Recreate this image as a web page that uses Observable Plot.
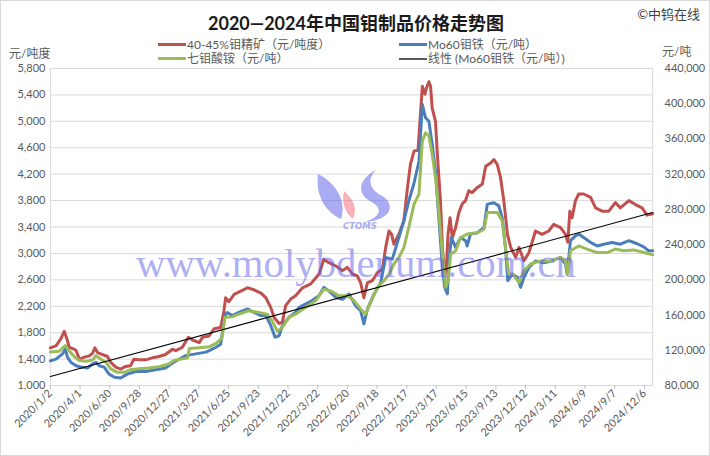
<!DOCTYPE html>
<html>
<head>
<meta charset="utf-8">
<script src="https://cdn.jsdelivr.net/npm/d3@7"></script>
<script src="https://cdn.jsdelivr.net/npm/@observablehq/plot@0.6"></script>
<style>
  html, body { margin: 0; padding: 0; background: #fff; }
  #chart { position: relative; width: 710px; height: 456px; box-sizing: border-box; border: 1px solid #d9d9d9; overflow: hidden;
    font-family: Lato, "Noto Sans CJK SC", sans-serif; color: #595959; }
  .abs { position: absolute; white-space: nowrap; }
  #title { left: 0; width: 710px; top: 9px; text-align: center; font-size: 18px; font-weight: bold; color: #1a1a1a; line-height: 26px; }
  #copy { right: 9px; top: 3px; font-size: 13px; color: #404040; line-height: 20px; }
  .leg { font-size: 12px; line-height: 16px; color: #595959; }
  .sw { display: inline-block; width: 28px; height: 3px; vertical-align: middle; margin-right: 1px; position: relative; top: -1px; }
  .unit { font-size: 12px; line-height: 16px; color: #595959; }
  #plot { position: absolute; left: 0; top: 57px; }
  #wm { position: absolute; left: 0; top: 0; pointer-events: none; }
</style>
</head>
<body>
<div id="chart">
  <div id="title" class="abs">2020—2024年中国钼制品价格走势图</div>
  <div id="copy" class="abs">©中钨在线</div>
  <div class="abs leg" style="left:157px;top:36px"><span class="sw" style="background:#c0504d"></span>40-45%钼精矿（元/吨度）</div>
  <div class="abs leg" style="left:398px;top:36px"><span class="sw" style="background:#4a7ebb"></span>Mo60钼铁（元/吨）</div>
  <div class="abs leg" style="left:157px;top:50px"><span class="sw" style="background:#9bbb59"></span>七钼酸铵（元/吨）</div>
  <div class="abs leg" style="left:398px;top:50px"><span class="sw" style="background:#595959;height:2px"></span>线性 (Mo60钼铁（元/吨）)</div>
  <div class="abs unit" style="left:8px;top:45px">元/吨度</div>
  <div class="abs unit" style="left:661px;top:43px">元/吨</div>
  <div id="plot"></div>
  <svg id="wm" width="710" height="456">
    <g opacity="0.5">
      <path d="M317,173 C335,182 346,200 340,218 C326,212 314,196 317,173 Z" fill="rgb(90,90,235)"/>
      <path d="M343,190 C352,198 357,207 352,218 C345,213 340,202 343,190 Z" fill="rgb(245,100,120)"/>
      <path d="M375,169 C358,178 355,192 369,200 C382,207 381,215 364,221 C391,219 395,203 381,195 C368,188 366,178 375,169 Z" fill="rgb(90,90,235)"/>
      <text x="359" y="228" text-anchor="middle" font-family="'DejaVu Sans', sans-serif" font-size="8.5" font-weight="bold" font-style="italic" fill="rgb(90,90,235)">CTOMS</text>
      <text x="355" y="276" text-anchor="middle" font-family="'Liberation Serif', 'DejaVu Serif', serif" font-size="40" fill="rgb(95,95,235)" textLength="440" lengthAdjust="spacingAndGlyphs">www.molybdenum.com.cn</text>
    </g>
  </svg>
</div>
<script>
// ---- tick labels ----
const xTickLabels = ["2020/1/2","2020/4/1","2020/6/30","2020/9/28","2020/12/27","2021/3/27","2021/6/25","2021/9/23","2021/12/22","2022/3/22","2022/6/20","2022/9/18","2022/12/17","2023/3/17","2023/6/15","2023/9/13","2023/12/12","2024/3/11","2024/6/9","2024/9/7","2024/12/6"];
const leftTicks = [1000,1400,1800,2200,2600,3000,3400,3800,4200,4600,5000,5400,5800];
const rightTicks = [80000,120000,160000,200000,240000,280000,320000,360000,400000,440000];
const xDomain = ["2020-01-02","2024-12-31"];

// ---- 40-45% molybdenum concentrate (元/吨度), left axis ----
const concDates = ["2020-01-02","2020-01-19","2020-02-03","2020-02-13","2020-02-21","2020-02-28","2020-03-10","2020-03-20","2020-03-30","2020-04-14","2020-04-29","2020-05-09","2020-05-16","2020-05-24","2020-06-08","2020-06-23","2020-07-03","2020-07-18","2020-08-02","2020-08-17","2020-09-01","2020-09-11","2020-09-26","2020-10-17","2020-11-06","2020-11-26","2020-12-16","2021-01-06","2021-01-16","2021-02-05","2021-02-23","2021-03-08","2021-03-28","2021-04-07","2021-04-27","2021-05-12","2021-06-01","2021-06-11","2021-06-16","2021-06-26","2021-07-12","2021-08-01","2021-08-21","2021-09-10","2021-10-01","2021-10-16","2021-10-31","2021-11-10","2021-11-25","2021-12-05","2021-12-15","2021-12-30","2022-01-14","2022-02-04","2022-03-01","2022-03-26","2022-04-10","2022-04-25","2022-05-16","2022-06-05","2022-06-20","2022-07-05","2022-07-20","2022-07-30","2022-08-09","2022-08-20","2022-09-04","2022-09-19","2022-10-04","2022-10-14","2022-10-24","2022-11-01","2022-11-08","2022-11-23","2022-12-08","2022-12-18","2022-12-28","2023-01-08","2023-01-20","2023-01-28","2023-02-02","2023-02-10","2023-02-15","2023-02-22","2023-02-27","2023-03-04","2023-03-14","2023-03-19","2023-03-29","2023-04-04","2023-04-11","2023-04-17","2023-04-21","2023-04-27","2023-05-04","2023-05-14","2023-05-24","2023-06-03","2023-06-13","2023-06-23","2023-07-03","2023-07-19","2023-08-03","2023-08-13","2023-08-28","2023-09-07","2023-09-17","2023-09-27","2023-10-07","2023-10-18","2023-10-28","2023-11-12","2023-11-22","2023-12-07","2023-12-22","2024-01-11","2024-01-31","2024-02-20","2024-03-06","2024-03-27","2024-04-11","2024-04-18","2024-04-24","2024-05-01","2024-05-11","2024-05-21","2024-06-05","2024-06-26","2024-07-11","2024-07-31","2024-08-20","2024-09-09","2024-09-24","2024-10-20","2024-11-09","2024-11-29","2024-12-14","2024-12-31"];
const concPrices = [1570,1600,1710,1820,1710,1580,1560,1530,1400,1430,1450,1490,1570,1500,1470,1440,1350,1280,1250,1290,1300,1400,1390,1390,1420,1440,1470,1550,1530,1580,1730,1690,1650,1730,1750,1860,1880,2130,2330,2270,2380,2430,2480,2450,2400,2330,2180,2030,1940,1960,2210,2310,2360,2480,2540,2690,2910,2860,2810,2740,2790,2690,2660,2560,2330,2560,2590,2710,2760,3090,3340,3290,3140,3290,3490,3950,4350,4550,4560,5150,5530,5410,5510,5600,5530,5200,5000,4550,3800,3090,2640,2890,3290,3540,3240,3390,3620,3750,3800,3950,3920,4000,4050,4320,4370,4420,4350,4150,3800,3290,3090,2940,3090,2890,3010,3340,3290,3340,3440,3390,3290,3170,3640,3540,3800,3900,3900,3850,3690,3640,3640,3770,3690,3800,3740,3690,3580,3600];

// ---- Mo60 ferromolybdenum (元/吨), right axis ----
const feMoDates = ["2020-01-02","2020-01-19","2020-02-08","2020-02-16","2020-02-23","2020-03-04","2020-03-20","2020-04-04","2020-04-24","2020-05-09","2020-05-19","2020-05-29","2020-06-13","2020-06-28","2020-07-14","2020-08-02","2020-08-22","2020-09-17","2020-10-17","2020-11-16","2020-12-16","2021-01-10","2021-02-15","2021-03-18","2021-04-18","2021-05-18","2021-06-01","2021-06-14","2021-06-21","2021-07-06","2021-07-26","2021-08-21","2021-09-10","2021-10-01","2021-10-16","2021-10-31","2021-11-13","2021-11-25","2021-12-05","2021-12-25","2022-01-14","2022-01-24","2022-03-05","2022-03-26","2022-04-10","2022-04-25","2022-05-16","2022-06-05","2022-06-25","2022-07-15","2022-07-30","2022-08-09","2022-08-20","2022-09-09","2022-09-29","2022-10-14","2022-11-03","2022-11-23","2022-12-08","2022-12-23","2023-01-08","2023-01-23","2023-02-02","2023-02-12","2023-02-22","2023-03-04","2023-03-14","2023-03-24","2023-04-04","2023-04-11","2023-04-19","2023-04-24","2023-05-01","2023-05-14","2023-05-29","2023-06-13","2023-06-18","2023-06-28","2023-07-19","2023-08-08","2023-08-18","2023-09-07","2023-09-22","2023-10-02","2023-10-12","2023-10-19","2023-11-02","2023-11-17","2023-11-27","2023-12-07","2023-12-22","2024-01-11","2024-02-05","2024-03-01","2024-03-27","2024-04-11","2024-04-16","2024-04-26","2024-05-11","2024-05-21","2024-06-05","2024-06-26","2024-07-16","2024-08-05","2024-08-30","2024-09-24","2024-10-20","2024-11-14","2024-12-04","2024-12-19","2024-12-31"];
const feMoPrices = [108000,110000,116000,121500,112000,106500,102500,101000,100000,104500,106500,102500,101000,93000,89500,88500,93000,96000,96000,98000,100000,106500,114000,116000,118000,123500,127000,159500,163000,159500,163000,167000,163000,159500,159500,148000,135000,136500,148000,157500,163000,168500,176500,182000,191500,187500,180000,178000,184000,170500,165000,150000,167000,184000,197000,225500,223500,248000,267000,289500,310000,335000,399000,384000,380000,354000,323500,270500,214000,191500,184000,221500,248000,237000,248000,244500,238500,252000,253500,259500,286000,287500,284000,270500,237000,199000,206500,203000,191500,203000,214000,221500,219500,221500,225500,218000,206500,244500,250000,252000,248000,242500,238500,240500,242500,240500,244500,241000,237500,233000,233000];

// ---- ammonium heptamolybdate (元/吨), right axis ----
const ahmDates = ["2020-01-02","2020-01-29","2020-02-16","2020-02-28","2020-03-14","2020-03-30","2020-04-19","2020-05-09","2020-05-19","2020-06-03","2020-06-18","2020-07-03","2020-07-23","2020-08-12","2020-09-01","2020-09-26","2020-10-26","2020-11-26","2020-12-26","2021-01-10","2021-02-01","2021-02-21","2021-02-26","2021-03-28","2021-04-27","2021-05-18","2021-06-05","2021-06-14","2021-07-06","2021-07-26","2021-08-25","2021-09-25","2021-10-20","2021-11-04","2021-11-20","2021-12-05","2021-12-25","2022-01-14","2022-02-13","2022-03-16","2022-04-10","2022-04-30","2022-05-26","2022-06-20","2022-07-10","2022-07-30","2022-08-14","2022-08-30","2022-09-19","2022-10-09","2022-10-24","2022-11-08","2022-11-23","2022-12-08","2022-12-23","2023-01-08","2023-01-23","2023-02-02","2023-02-12","2023-02-22","2023-03-04","2023-03-14","2023-03-24","2023-04-04","2023-04-14","2023-04-21","2023-04-29","2023-05-14","2023-05-29","2023-06-18","2023-07-19","2023-08-08","2023-08-18","2023-09-17","2023-10-02","2023-10-12","2023-10-22","2023-11-04","2023-11-22","2023-12-07","2023-12-27","2024-01-27","2024-02-26","2024-03-27","2024-04-11","2024-04-18","2024-04-26","2024-05-21","2024-06-15","2024-07-16","2024-08-15","2024-09-09","2024-10-04","2024-11-03","2024-12-04","2024-12-31"];
const ahmPrices = [118000,119000,125500,119500,113000,108500,107500,109000,114000,110000,106500,99000,95000,95000,98000,99000,100000,101500,104500,108500,110000,111500,122000,123000,124000,128000,134000,157500,158000,161000,165000,163000,161000,153500,141500,146000,157500,161000,168500,176500,189500,187500,182000,182000,176500,167000,161000,174500,191500,199000,206500,218000,225500,236500,259500,286000,297500,357500,367000,363500,342500,316000,278500,229000,191500,199000,229000,233000,248000,252000,253500,257500,276500,276500,267000,236500,206500,206500,197000,210500,218000,221500,221500,225500,221500,206500,233000,238500,235000,231000,231000,235000,233000,234000,231000,228500];

// ---- linear trend of Mo60 ferromolybdenum (元/吨), right axis ----
const trendDates = ["2020-01-02","2024-12-31"];
const trendPrices = [90200, 276400];

// ---- build ----
const parseISO = d3.utcParse("%Y-%m-%d");
const parseLabel = d3.utcParse("%Y/%-m/%-d");
const fmtLabel = d3.utcFormat("%Y/%-m/%-d");
const comma = d3.format(",");
// secondary (right) axis expressed on the primary scale: 80,000 ↔ 1,000 and 440,000 ↔ 5,800
const toLeft = v => 1000 + (v - 80000) / 75;
const toRight = l => Math.round(80000 + (l - 1000) * 75);

const table = (dates, vals, conv = v => v) => dates.map((d, i) => ({date: parseISO(d), y: conv(vals[i])}));
const conc = table(concDates, concPrices);
const feMo = table(feMoDates, feMoPrices, toLeft);
const ahm = table(ahmDates, ahmPrices, toLeft);
const trend = table(trendDates, trendPrices, toLeft);
const xTicks = xTickLabels.map(parseLabel);

const chart = Plot.plot({
  width: 710,
  height: 399,
  marginLeft: 49,
  marginRight: 57,
  marginTop: 10,
  marginBottom: 71,
  style: {fontFamily: 'Lato, "Noto Sans CJK SC", sans-serif', fontSize: "11px", color: "#595959", background: "transparent", overflow: "visible"},
  x: {type: "utc", domain: xDomain.map(parseISO)},
  y: {domain: [1000, 5800]},
  marks: [
    Plot.gridY(leftTicks, {stroke: "#d9d9d9", strokeOpacity: 1, strokeWidth: 1}),
    Plot.frame({stroke: "#d9d9d9"}),
    Plot.axisY(leftTicks, {anchor: "left", tickSize: 0, tickPadding: 5, tickFormat: comma, label: null}),
    Plot.axisY(rightTicks.map(toLeft), {anchor: "right", tickSize: 0, tickPadding: 12, textAnchor: "start", tickFormat: d => comma(toRight(d)), label: null}),
    Plot.axisX(xTicks, {anchor: "bottom", tickRotate: -45, tickSize: 4, tickPadding: 2, stroke: "#bfbfbf", tickFormat: fmtLabel, label: null}),
    Plot.line(conc, {x: "date", y: "y", stroke: "#c0504d", strokeWidth: 3, strokeLinejoin: "round"}),
    Plot.line(feMo, {x: "date", y: "y", stroke: "#4a7ebb", strokeWidth: 3, strokeLinejoin: "round"}),
    Plot.line(ahm, {x: "date", y: "y", stroke: "#9bbb59", strokeWidth: 3, strokeLinejoin: "round"}),
    Plot.line(trend, {x: "date", y: "y", stroke: "#000000", strokeWidth: 1.1})
  ]
});
document.getElementById("plot").appendChild(chart);
</script>
</body>
</html>
